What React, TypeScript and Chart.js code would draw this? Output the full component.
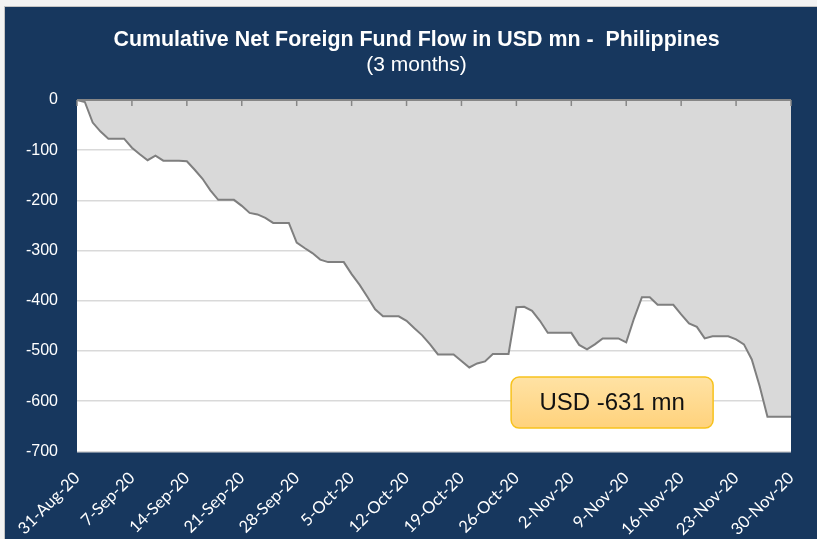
import React, { useEffect, useRef } from 'react';
import { Chart, registerables } from 'chart.js';

Chart.register(...registerables);

const TITLE = 'Cumulative Net Foreign Fund Flow in USD mn -  Philippines';
const SUBTITLE = '(3 months)';

// first calendar day of the daily series (UTC)
const START_DAY = Date.UTC(2020, 7, 31);
const MONTHS = ['Jan', 'Feb', 'Mar', 'Apr', 'May', 'Jun', 'Jul', 'Aug', 'Sep', 'Oct', 'Nov', 'Dec'];

// weekly tick labels (every 7th day)
const TICK_LABELS = [
  '31-Aug-20', '7-Sep-20', '14-Sep-20', '21-Sep-20', '28-Sep-20', '5-Oct-20', '12-Oct-20',
  '19-Oct-20', '26-Oct-20', '2-Nov-20', '9-Nov-20', '16-Nov-20', '23-Nov-20', '30-Nov-20',
];

// cumulative net foreign fund flow, USD mn, one value per calendar day 31-Aug-20 .. 30-Nov-20
const FLOW = [
  0, -4, -45, -63, -77, -77, -77,
  -95, -108, -120, -111, -121, -121, -121,
  -122, -139, -157, -180, -199, -199, -199,
  -211, -225, -228, -235, -245, -245, -245,
  -284, -295, -305, -318, -323, -323, -323,
  -347, -368, -392, -417, -431, -431, -431,
  -440, -455, -469, -487, -507, -507, -507,
  -520, -533, -525, -521, -506, -506, -506,
  -413, -412, -420, -440, -464, -464, -464,
  -464, -488, -497, -487, -475, -475, -475,
  -483, -435, -393, -393, -408, -408, -408,
  -427, -445, -452, -475, -471, -471, -471,
  -477, -487, -517, -570, -631, -631, -631,
  -631,
];

const Y_MIN = -700;
const Y_MAX = 0;
const Y_STEP = 100;

const CALLOUT_TEXT = 'USD -631 mn';

const DAY_LABELS = FLOW.map((_, i) => {
  const d = new Date(START_DAY + i * 86400000);
  return `${d.getUTCDate()}-${MONTHS[d.getUTCMonth()]}-${String(d.getUTCFullYear()).slice(2)}`;
});

const NAVY = '#17375e';

const plotBgPlugin = {
  id: 'plotBg',
  beforeDraw(chart: any) {
    const { ctx, chartArea } = chart;
    ctx.save();
    ctx.fillStyle = '#ffffff';
    ctx.fillRect(chartArea.left, chartArea.top, chartArea.right - chartArea.left, chartArea.bottom - chartArea.top);
    ctx.restore();
  },
};

const zeroAxisPlugin = {
  id: 'zeroAxis',
  afterDatasetsDraw(chart: any) {
    const { ctx, chartArea, scales } = chart;
    const y0 = scales.y.getPixelForValue(0);
    ctx.save();
    ctx.strokeStyle = '#868686';
    ctx.lineWidth = 2;
    ctx.beginPath();
    ctx.moveTo(chartArea.left, y0);
    ctx.lineTo(chartArea.right, y0);
    ctx.stroke();
    ctx.lineWidth = 1.5;
    TICK_LABELS.forEach((_, k) => {
      const x = scales.x.getPixelForValue(k * 7);
      ctx.beginPath();
      ctx.moveTo(x, y0);
      ctx.lineTo(x, y0 + 6);
      ctx.stroke();
    });
    ctx.restore();
  },
};

const calloutPlugin = {
  id: 'callout',
  afterDraw(chart: any) {
    const { ctx, scales } = chart;
    const cx = scales.x.getPixelForValue(68.2);
    const cy = scales.y.getPixelForValue(-603);
    const w = 202;
    const h = 51;
    const r = 8;
    const x = cx - w / 2;
    const y = cy - h / 2;
    ctx.save();
    const g = ctx.createLinearGradient(0, y, 0, y + h);
    g.addColorStop(0, '#ffe2a4');
    g.addColorStop(1, '#ffd27c');
    ctx.beginPath();
    ctx.moveTo(x + r, y);
    ctx.lineTo(x + w - r, y);
    ctx.arcTo(x + w, y, x + w, y + r, r);
    ctx.lineTo(x + w, y + h - r);
    ctx.arcTo(x + w, y + h, x + w - r, y + h, r);
    ctx.lineTo(x + r, y + h);
    ctx.arcTo(x, y + h, x, y + h - r, r);
    ctx.lineTo(x, y + r);
    ctx.arcTo(x, y, x + r, y, r);
    ctx.closePath();
    ctx.fillStyle = g;
    ctx.fill();
    ctx.strokeStyle = '#f7c21c';
    ctx.lineWidth = 1.5;
    ctx.stroke();
    ctx.fillStyle = '#111111';
    ctx.font = '24px "Liberation Sans", Arial, sans-serif';
    ctx.textAlign = 'center';
    ctx.textBaseline = 'middle';
    ctx.fillText(CALLOUT_TEXT, cx, cy + 1);
    ctx.restore();
  },
};

export default function App() {
  const ref = useRef<HTMLCanvasElement | null>(null);

  useEffect(() => {
    if (!ref.current) return;
    const chart = new Chart(ref.current, {
      type: 'line',
      data: {
        labels: DAY_LABELS,
        datasets: [
          {
            data: FLOW,
            borderColor: '#7f7f7f',
            borderWidth: 2,
            backgroundColor: '#d9d9d9',
            fill: 'origin',
            pointRadius: 0,
            tension: 0,
          },
        ],
      },
      options: {
        animation: false,
        responsive: false,
        devicePixelRatio: 1,
        layout: { padding: { left: 0, right: 0, top: 0, bottom: 0 } },
        plugins: {
          legend: { display: false },
          tooltip: { enabled: false },
          title: {
            display: true,
            text: TITLE,
            color: '#ffffff',
            font: { family: '"Liberation Sans", Arial, sans-serif', size: 21.4, weight: 'bold', lineHeight: 1.2 },
            padding: { top: 20, bottom: 0 },
          },
          subtitle: {
            display: true,
            text: SUBTITLE,
            color: '#ffffff',
            font: { family: '"Liberation Sans", Arial, sans-serif', size: 21, weight: 'normal', lineHeight: 1.2 },
            padding: { top: 0, bottom: 22.1 },
          },
        },
        scales: {
          x: {
            type: 'category',
            offset: false,
            grid: { display: false, drawTicks: false },
            border: { display: false },
            afterFit(scale: any) {
              scale.height = 87.7;
              scale.paddingLeft = 0;
              scale.paddingRight = 0;
            },
            ticks: {
              autoSkip: false,
              maxRotation: 45,
              minRotation: 45,
              padding: 17,
              color: '#ffffff',
              font: { family: 'Lato, "Open Sans", sans-serif', size: 16.5 },
              callback: (_v: any, i: number) => (i % 7 === 0 ? TICK_LABELS[i / 7] : ''),
            },
          },
          y: {
            min: Y_MIN,
            max: Y_MAX,
            afterFit(scale: any) {
              scale.width = 72;
            },
            grid: { color: '#d9d9d9', lineWidth: 1.5, drawTicks: false },
            border: { display: false },
            ticks: {
              stepSize: Y_STEP,
              padding: 19,
              color: '#ffffff',
              font: { family: '"Liberation Sans", Arial, sans-serif', size: 16 },
            },
          },
          y2: {
            type: 'linear',
            position: 'right',
            display: true,
            afterFit(scale: any) {
              scale.width = 37;
            },
            grid: { display: false, drawTicks: false },
            border: { display: false },
            ticks: { display: false },
          },
        },
      },
      plugins: [plotBgPlugin, zeroAxisPlugin, calloutPlugin],
    } as any);
    return () => chart.destroy();
  }, []);

  return (
    <div style={{ position: 'absolute', left: 0, top: 0, width: 817, height: 539, background: '#f3f3f3', overflow: 'hidden' }}>
      <div
        style={{
          position: 'absolute',
          left: 4,
          top: 6,
          width: 830,
          height: 533,
          background: NAVY,
          borderLeft: '1px solid #c4c4c4',
          borderTop: '1px solid #c4c4c4',
        }}
      >
        <canvas ref={ref} width={823} height={532} style={{ display: 'block' }} />
      </div>
    </div>
  );
}
